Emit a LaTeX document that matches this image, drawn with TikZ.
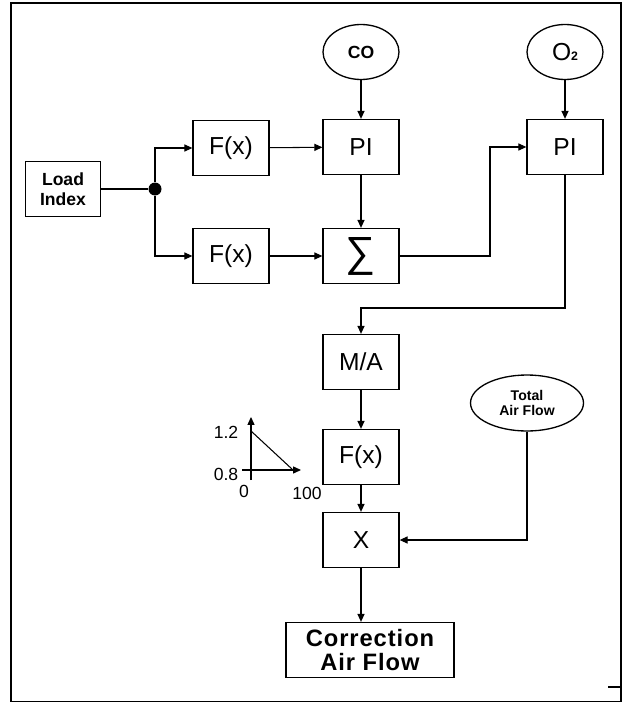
\documentclass[tikz,border=0pt]{standalone}
\usepackage{fontspec}
\setmainfont{Liberation Sans}
\usetikzlibrary{arrows.meta,shapes.geometric}

\begin{document}
\begin{tikzpicture}[
    x=0.02cm, y=-0.02cm,
    >={Triangle[length=4.5pt,width=4pt]},
    line width=0.6pt,
    block/.style={
        draw,
        line width=0.75pt,
        minimum width=1.52cm,
        minimum height=1.1cm,
        inner sep=0pt,
        align=center,
        font=\fontsize{14}{16}\selectfont
    },
    source/.style={
        draw,
        ellipse,
        line width=0.75pt,
        minimum width=1.52cm,
        minimum height=1.1cm,
        inner sep=0pt,
        align=center
    },
    ticklabel/.style={
        inner sep=0pt,
        font=\fontsize{10}{12}\selectfont
    }
]

\useasboundingbox (0,0) rectangle (622,703);

% Cadre
\draw[line width=0.9pt] (11,3) rectangle (621,701.5);
\draw (608,687) -- (621,687);

% Entrees
\node[
    block,
    minimum width=1.5cm,
    font=\bfseries\fontsize{10}{11.5}\selectfont
] (load) at (63,189) {Load\\Index};
\node[
    circle,
    fill=black,
    inner sep=0pt,
    minimum size=0.26cm
] (split) at (155,189) {};
\node[source, font=\bfseries\fontsize{10}{11}\selectfont] (co) at (361,52) {CO};
\node[source, font=\fontsize{14}{16}\selectfont] (otwo) at (565,52)
    {O{\fontsize{7}{8}\selectfont\bfseries 2}};
\node[
    source,
    minimum width=2.26cm,
    minimum height=1.12cm,
    font=\bfseries\fontsize{8}{9}\selectfont
] (total) at (527,403) {Total\\Air Flow};

% Blocs
\node[block] (fxa) at (231,148) {F(x)};
\node[block] (fxb) at (231,256) {F(x)};
\node[block] (pia) at (361,147) {PI};
\node[block, font=\fontsize{24}{24}\selectfont] (sum) at (361,256) {∑};
\node[block] (pib) at (565,147) {PI};
\node[block] (ma) at (361,362) {M/A};
\node[block] (fxc) at (361,457) {F(x)};
\node[block] (mult) at (361,540) {X};
\node[
    block,
    minimum width=3.36cm,
    font=\bfseries\fontsize{13.5}{14}\selectfont\addfontfeature{LetterSpace=4}
] (corr) at (370,650) {Correction\\Air Flow};

% Points de passage
\coordinate (jog) at (490,0);
\coordinate (turn) at (0,308);

% Liaisons
\draw (load) -- (split);
\draw[->] (split) |- (fxa);
\draw[->] (split) |- (fxb);
\draw[->] (fxa) -- (pia);
\draw[->] (fxb) -- (sum);
\draw[->] (co) -- (pia);
\draw[->] (pia) -- (sum);
\draw[->] (otwo) -- (pib);
\draw[->] (sum.east) -| (jog |- pib.west) -- (pib.west);
\draw[->] (pib.south) |- (ma.north |- turn) -- (ma.north);
\draw[->] (ma) -- (fxc);
\draw[->] (fxc) -- (mult);
\draw[->] (total) |- (mult);
\draw[->] (mult.south) -- (mult.south |- corr.north);

% Courbe de correction
\draw[->] (251,480) -- (251,417);
\draw[->] (242,470) -- (301,470);
\draw (251,431) -- (293,470);
\node[ticklabel] (ymax) at (226,432) {1.2};
\node[ticklabel] (ymin) at (226,474) {0.8};
\node[ticklabel] (xmin) at (244,491) {0};
\node[ticklabel] (xmax) at (307,493) {100};

\end{tikzpicture}
\end{document}
